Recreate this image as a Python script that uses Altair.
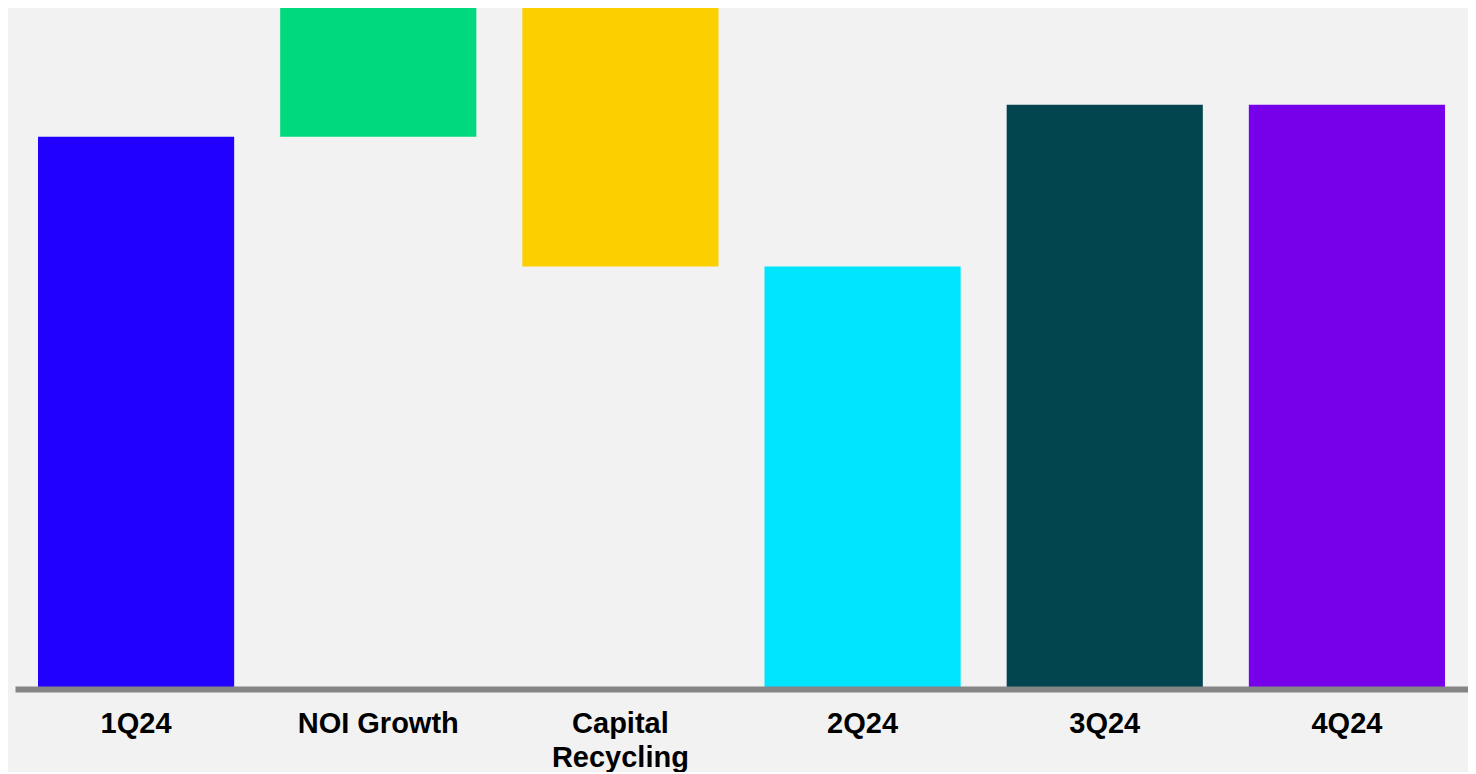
import altair as alt
import pandas as pd

categories = ["1Q24", "NOI Growth", "Capital Recycling", "2Q24", "3Q24", "4Q24"]
kinds = ["total", "delta", "delta", "total", "total", "total"]
amounts = [553, 129, -259, 423, 585, 585]
colors = ["#2200FF", "#00D97E", "#FCD000", "#00E5FF", "#02454F", "#7700EA"]

rows = []
running = 0
for cat, kind, amt in zip(categories, kinds, amounts):
    if kind == "total":
        start, end = 0, amt
    else:
        start, end = running, running + amt
    running = end
    rows.append({"category": cat, "start": start, "end": end})
df = pd.DataFrame(rows)

chart = (
    alt.Chart(df)
    .mark_bar()
    .encode(
        x=alt.X(
            "category:N",
            sort=categories,
            title=None,
            scale=alt.Scale(paddingInner=0.19, paddingOuter=0.095),
            axis=alt.Axis(
                labelAngle=0,
                ticks=False,
                tickSize=0,
                labelPadding=20,
                labelFont="Liberation Sans",
                labelFontWeight="bold",
                labelFontSize=29,
                labelColor="#000000",
                labelLineHeight=34,
                labelExpr="datum.label == 'Capital Recycling' ? ['Capital', 'Recycling'] : datum.label",
                domainColor="#858585",
                domainWidth=6,
                zindex=1,
            ),
        ),
        y=alt.Y("start:Q", scale=alt.Scale(domain=[0, 682], nice=False, zero=True), axis=None),
        y2="end:Q",
        color=alt.Color("category:N", scale=alt.Scale(domain=categories, range=colors), legend=None),
    )
    .properties(
        width=1453,
        height=681,
        background="#f2f2f2",
        padding={"left": 7, "top": 0, "right": 0, "bottom": 0},
    )
    .configure_view(stroke=None)
)

chart.save("out.html", embed_options={"renderer": "svg", "actions": False})
